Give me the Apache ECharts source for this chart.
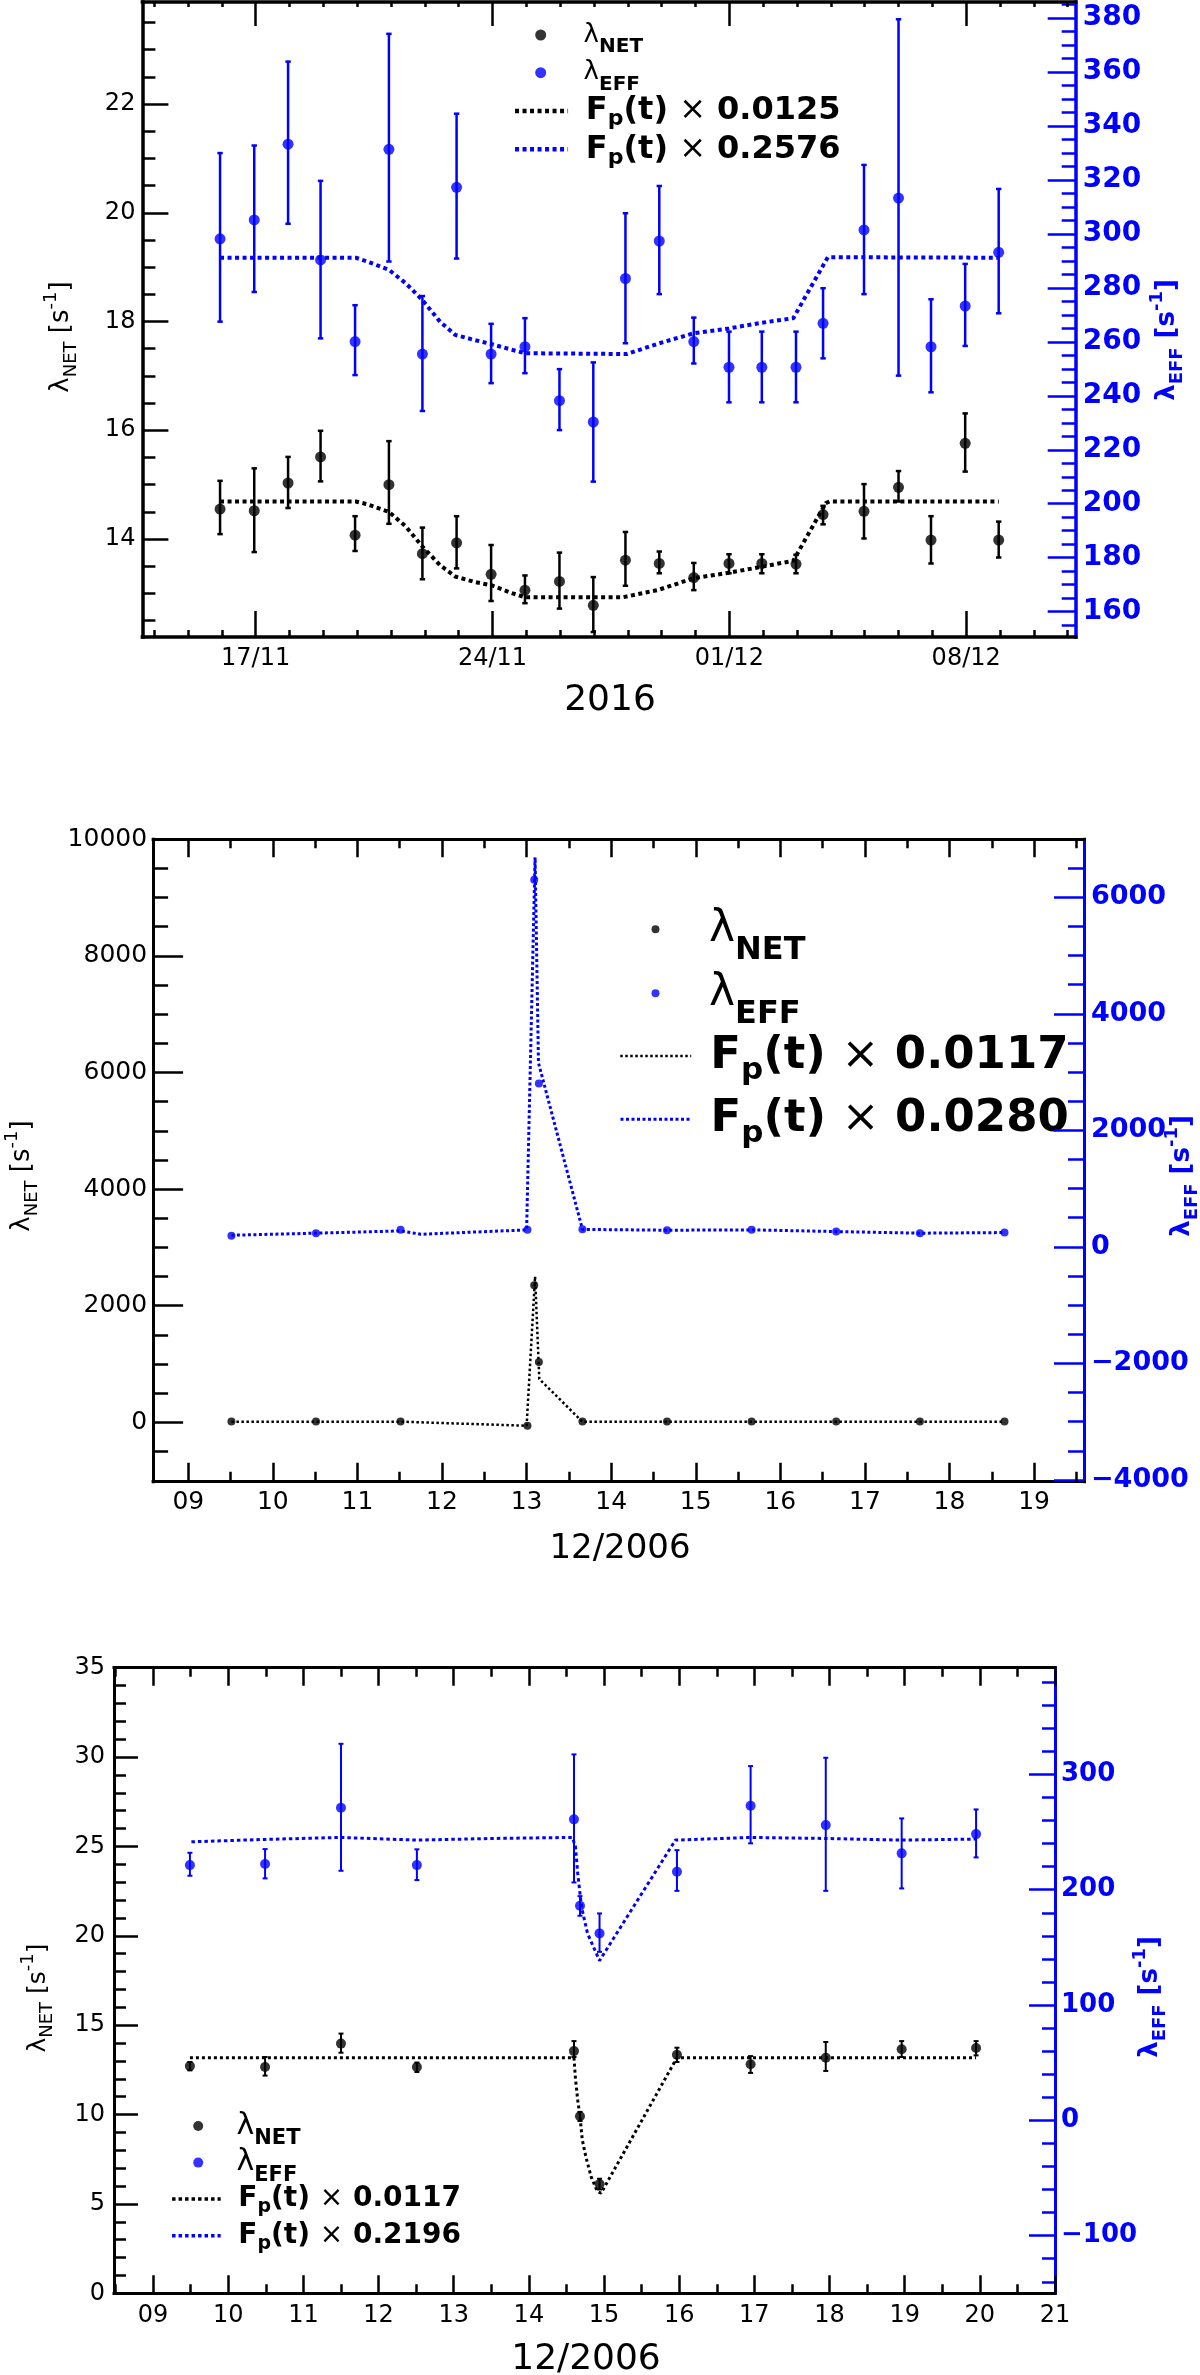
<!DOCTYPE html>
<html><head><meta charset="utf-8">
<script src="https://cdn.jsdelivr.net/npm/echarts@6/dist/echarts.min.js"></script>
<style>html,body{margin:0;padding:0;background:#fff}#c{width:1200px;height:2375px}</style>
</head><body><div id="c"></div>
<script>
// ---------------- DATA ----------------
// Panel 1 (2016): x = day counted from 1 Nov (31 = 01/12)
const p1X      = [15.95,16.96,17.96,18.92,19.94,20.94,21.93,22.94,23.96,24.96,25.98,26.98,27.93,28.93,29.95,30.99,31.96,32.97,33.77,34.98,36.0,36.96,37.97,38.96];
const p1Net    = [14.55,14.52,15.03,15.51,14.07,15.00,13.73,13.93,13.35,13.06,13.22,12.78,13.61,13.55,13.29,13.55,13.55,13.54,14.45,14.51,14.95,13.98,15.76,13.98];
const p1NetLo  = [14.09,13.76,14.57,15.06,13.78,14.28,13.26,13.46,12.86,12.82,12.72,12.29,13.14,13.37,13.06,13.37,13.37,13.37,14.27,14.01,14.69,13.55,15.24,13.66];
const p1NetHi  = [15.07,15.30,15.51,15.99,14.42,15.80,14.21,14.42,13.89,13.33,13.75,13.30,14.13,13.77,13.56,13.72,13.72,13.71,14.61,15.01,15.25,14.42,16.31,14.32];
const p1Eff    = [298.2,305.2,333.3,290.4,260.1,331.4,255.5,317.3,255.5,258.2,238.2,230.3,283.5,297.4,260.1,250.6,250.6,250.6,266.9,301.5,313.3,258.2,273.3,293.2];
const p1EffLo  = [267.5,278.5,303.8,261.3,247.7,289.8,234.4,290.9,244.7,248.4,227.3,208.2,259.5,277.7,252.0,237.6,237.6,237.6,253.9,277.7,247.5,241.3,258.5,270.6];
const p1EffHi  = [330.0,332.8,363.9,319.7,273.6,374.2,277.0,344.6,266.7,268.8,249.9,252.4,307.7,317.8,269.0,263.8,263.8,263.8,279.9,325.6,379.6,275.8,288.9,316.7];
const p1NetFitX = [15.95,19.96,20.30,20.94,21.44,21.93,22.45,22.90,23.47,23.96,24.60,24.96,27.86,28.88,29.95,30.99,31.96,32.89,33.85,33.96,38.96];
const p1NetFitY = [14.69,14.69,14.64,14.50,14.23,13.86,13.52,13.31,13.21,13.15,13.00,12.93,12.93,13.06,13.28,13.38,13.49,13.60,14.66,14.69,14.69];
const p1EffFitX = [15.95,19.96,20.30,20.94,21.44,21.93,22.45,22.90,23.47,23.96,24.60,24.96,27.97,28.93,29.95,30.99,31.96,32.89,33.91,38.96];
const p1EffFitY = [291.2,291.2,289.8,286.7,281.7,275.5,267.5,262.6,260.7,259.2,257.0,255.8,255.5,259.5,263.2,265.0,267.1,268.8,291.4,291.2];
const p1XTickVals = [17,24,31,38];
const p1XTickLabels = ['17/11','24/11','01/12','08/12'];

// Panel 2 (12/2006, day of month)
const p2X      = [9.51,10.51,11.51,13.01,13.09,13.145,13.66,14.66,15.66,16.66,17.65,18.65];
const p2Net    = [12,13,14,-60,2350,1034,13,12,13,14,13,13];
const p2Eff    = [189,235,292,292,6300,2805,304,286,292,263,235,246];
const p2NetFitX = [9.51,10.51,11.51,13.0,13.10,13.15,13.66,14.66,15.66,16.66,17.65,18.65];
const p2NetFitY = [10,10,10,-60,2500,740,10,10,10,10,10,10];
const p2EffFitX = [9.51,10.51,11.51,11.75,13.0,13.10,13.14,13.66,14.66,15.66,16.66,17.65,18.65];
const p2EffFitY = [200,235,274,217,291,6685,3160,300,286,292,263,235,246];
const p2XTickVals = [9,10,11,12,13,14,15,16,17,18,19];
const p2XTickLabels = ['09','10','11','12','13','14','15','16','17','18','19'];

// Panel 3 (12/2006, day of month)
const p3X      = [9.49,10.49,11.50,12.51,14.60,14.68,14.94,15.97,16.95,17.95,18.96,19.95];
const p3Net    = [12.71,12.66,13.97,12.66,13.55,9.91,6.11,13.35,12.81,13.18,13.65,13.72];
const p3NetLo  = [12.47,12.18,13.46,12.38,13.22,9.64,5.81,12.94,12.33,12.44,13.22,13.31];
const p3NetHi  = [12.94,13.22,14.53,12.91,14.11,10.15,6.41,13.74,13.27,14.06,14.11,14.11];
const p3Eff    = [221.3,222.2,271.0,221.3,261.0,186.0,162.1,215.5,272.8,256.0,231.5,248.2];
const p3EffLo  = [212.1,209.8,216.4,208.3,206.3,177.4,146.1,199.0,240.2,199.0,201.1,228.0];
const p3EffHi  = [232.0,235.2,326.5,235.0,317.3,194.4,179.4,234.3,307.2,314.4,261.8,269.6];
const p3NetFitX = [9.49,14.60,14.62,14.65,14.68,14.71,14.76,14.83,14.91,14.96,15.97,19.95];
const p3NetFitY = [13.18,13.18,12.0,10.8,9.9,8.6,7.6,6.5,5.7,5.6,13.18,13.18];
const p3EffFitX = [9.51,10.49,11.50,12.51,13.5,14.58,14.62,14.65,14.70,14.78,14.94,15.95,16.95,17.95,18.96,19.95];
const p3EffFitY = [241.5,243.6,245.3,243.0,244.4,245.3,237.2,214.1,185.2,162.1,138.5,243.0,245.3,244.4,243.0,243.9];
const p3XTickVals = [9,10,11,12,13,14,15,16,17,18,19,20,21];
const p3XTickLabels = ['09','10','11','12','13','14','15','16','17','18','19','20','21'];

// y tick labels
const p1YLVals = [14,16,18,20,22];
const p1YRVals = [160,180,200,220,240,260,280,300,320,340,360,380];
const p2YLVals = [0,2000,4000,6000,8000,10000];
const p2YRVals = [-4000,-2000,0,2000,4000,6000];
const p3YLVals = [0,5,10,15,20,25,30,35];
const p3YRVals = [-100,0,100,200,300];

// ---------------- HELPERS ----------------
const BLUE = '#0000ff', BLACK = '#000000', FONT = 'DejaVu Sans';
function range(a, b, s){ const r=[]; for(let v=a; v<=b+1e-9; v+=s) r.push(Math.round(v*1000)/1000); return r; }
const fmtNum = v => String(v).replace('-', '\u2212');

const xAxes = [], yAxes = [];
function axis(kind, grid, pos, min, max, ticks, len, color, lw, showLine, label){
  const o = {type:'value', gridIndex:grid, position:pos, min:min, max:max,
    axisLine:{show:showLine, onZero:false, lineStyle:{color:color, width:lw, cap:'square'}},
    axisTick:{show:true, inside:true, length:len, customValues:ticks, lineStyle:{color:color, width:2.5}},
    axisLabel: label ? Object.assign({show:true, customValues:ticks, fontFamily:FONT, color:color}, label) : {show:false},
    splitLine:{show:false}, minorTick:{show:false}, minorSplitLine:{show:false}, z:5};
  if (kind==='x'){ xAxes.push(o); return xAxes.length-1; }
  yAxes.push(o); return yAxes.length-1;
}
function labelMap(vals, labels){ return v => { const i = vals.indexOf(Math.round(v*1000)/1000); return i>=0 ? labels[i] : ''; }; }

function makeErr(xs, lo, hi, xi, yi, color, lw, cap){
  return {type:'custom', coordinateSystem:'cartesian2d', xAxisIndex:xi, yAxisIndex:yi, silent:true, z:3,
    data: xs.map((x,i)=>[x, lo[i], hi[i]]), encode:{x:0, y:[1,2]},
    renderItem:function(params, api){
      const x = api.value(0);
      const a = api.coord([x, api.value(1)]), b = api.coord([x, api.value(2)]);
      const st = {stroke:color, lineWidth:lw};
      return {type:'group', children:[
        {type:'line', shape:{x1:a[0],y1:a[1],x2:b[0],y2:b[1]}, style:st},
        {type:'line', shape:{x1:a[0]-cap,y1:a[1],x2:a[0]+cap,y2:a[1]}, style:st},
        {type:'line', shape:{x1:b[0]-cap,y1:b[1],x2:b[0]+cap,y2:b[1]}, style:st}
      ]};
    }};
}
function makeScatter(name, xs, ys, xi, yi, color, size){
  return {type:'scatter', name:name, xAxisIndex:xi, yAxisIndex:yi, silent:true, z:4,
    data: xs.map((x,i)=>[x, ys[i]]), symbol:'circle', symbolSize:size, itemStyle:{color:color}};
}
function makeLine(name, xs, ys, xi, yi, color, w, dash){
  return {type:'line', name:name, xAxisIndex:xi, yAxisIndex:yi, silent:true, z:2,
    data: xs.map((x,i)=>[x, ys[i]]), symbol:'none', showSymbol:false, itemStyle:{color:color},
    lineStyle:{color:color, width:w, type:dash, cap:'butt'}};
}

// ---------------- AXES ----------------
// Panel 1
const P1 = {x:[13.655, 41.236], yl:[12.198, 23.876], yr:[150.6, 386.0]};
const x1 = axis('x',0,'bottom',P1.x[0],P1.x[1],p1XTickVals,26,BLACK,3.5,true,{fontSize:24, margin:10, formatter:labelMap(p1XTickVals,p1XTickLabels)});
axis('x',0,'bottom',P1.x[0],P1.x[1],range(14,41,1),7,BLACK,3.5,false,null);
axis('x',0,'top',P1.x[0],P1.x[1],p1XTickVals,24,BLACK,3.5,true,null);
axis('x',0,'top',P1.x[0],P1.x[1],range(14,41,1),5,BLACK,3.5,false,null);
const y1L = axis('y',0,'left',P1.yl[0],P1.yl[1],p1YLVals,26,BLACK,3.5,true,{fontSize:24, margin:7, formatter:fmtNum});
axis('y',0,'left',P1.yl[0],P1.yl[1],range(12.5,23.5,0.5),13,BLACK,3.5,false,null);
const y1R = axis('y',0,'right',P1.yr[0],P1.yr[1],p1YRVals,28,BLUE,3.5,true,{fontSize:28, fontWeight:'bold', margin:7, formatter:fmtNum});
axis('y',0,'right',P1.yr[0],P1.yr[1],range(155,385,5),14,BLUE,3.5,false,null);

// Panel 2
const P2 = {x:[8.584, 19.59], yl:[-1020, 10000], yr:[-4030, 6995]};
const x2 = axis('x',1,'bottom',P2.x[0],P2.x[1],p2XTickVals,19,BLACK,3,true,{fontSize:25, margin:8, formatter:labelMap(p2XTickVals,p2XTickLabels)});
axis('x',1,'bottom',P2.x[0],P2.x[1],range(9.5,19.5,1),10,BLACK,3,false,null);
axis('x',1,'top',P2.x[0],P2.x[1],p2XTickVals,18,BLACK,3,true,null);
axis('x',1,'top',P2.x[0],P2.x[1],range(9.5,19.5,1),9,BLACK,3,false,null);
const y2L = axis('y',1,'left',P2.yl[0],P2.yl[1],p2YLVals,30,BLACK,3,true,{fontSize:25, margin:6, formatter:fmtNum});
axis('y',1,'left',P2.yl[0],P2.yl[1],range(-500,9500,500),15,BLACK,3,false,null);
const y2R = axis('y',1,'right',P2.yr[0],P2.yr[1],p2YRVals,30,BLUE,3,true,{fontSize:27, fontWeight:'bold', margin:7, formatter:fmtNum});
axis('y',1,'right',P2.yr[0],P2.yr[1],range(-3500,6500,500),16,BLUE,3,false,null);

// Panel 3
const P3 = {x:[8.48, 21.0], yl:[0, 35], yr:[-150, 392.5]};
const x3 = axis('x',2,'bottom',P3.x[0],P3.x[1],p3XTickVals,18,BLACK,3,true,{fontSize:24, margin:10, formatter:labelMap(p3XTickVals,p3XTickLabels)});
axis('x',2,'bottom',P3.x[0],P3.x[1],range(8.5,20.5,1),9,BLACK,3,false,null);
axis('x',2,'top',P3.x[0],P3.x[1],p3XTickVals,18,BLACK,3,true,null);
axis('x',2,'top',P3.x[0],P3.x[1],range(8.5,20.5,1),9,BLACK,3,false,null);
const y3L = axis('y',2,'left',P3.yl[0],P3.yl[1],p3YLVals,24,BLACK,3,true,{fontSize:24, margin:9, formatter:fmtNum});
axis('y',2,'left',P3.yl[0],P3.yl[1],range(1,34,1),12,BLACK,3,false,null);
const y3R = axis('y',2,'right',P3.yr[0],P3.yr[1],p3YRVals,26,BLUE,3,true,{fontSize:26, fontWeight:'bold', margin:6, formatter:fmtNum});
axis('y',2,'right',P3.yr[0],P3.yr[1],range(-140,380,20),13,BLUE,3,false,null);

// ---------------- SERIES ----------------
const series = [
  makeLine('nf1', p1NetFitX, p1NetFitY, x1, y1L, BLACK, 4, [4,3.5]),
  makeLine('ef1', p1EffFitX, p1EffFitY, x1, y1R, BLUE, 4, [4,3.5]),
  makeErr(p1X, p1NetLo, p1NetHi, x1, y1L, BLACK, 2.5, 2.7),
  makeErr(p1X, p1EffLo, p1EffHi, x1, y1R, BLUE, 2.5, 2.7),
  makeScatter('n1', p1X, p1Net, x1, y1L, BLACK, 11),
  makeScatter('e1', p1X, p1Eff, x1, y1R, BLUE, 11),

  makeLine('nf2', p2NetFitX, p2NetFitY, x2, y2L, BLACK, 2.5, [2.5,2.5]),
  makeLine('ef2', p2EffFitX, p2EffFitY, x2, y2R, BLUE, 3, [3,2.5]),
  makeScatter('n2', p2X, p2Net, x2, y2L, BLACK, 8),
  makeScatter('e2', p2X, p2Eff, x2, y2R, BLUE, 8),

  makeLine('nf3', p3NetFitX, p3NetFitY, x3, y3L, BLACK, 3, [3,3]),
  makeLine('ef3', p3EffFitX, p3EffFitY, x3, y3R, BLUE, 3, [3.5,3]),
  makeErr(p3X, p3NetLo, p3NetHi, x3, y3L, BLACK, 2, 2.5),
  makeErr(p3X, p3EffLo, p3EffHi, x3, y3R, BLUE, 2, 2.5),
  makeScatter('n3', p3X, p3Net, x3, y3L, BLACK, 10),
  makeScatter('e3', p3X, p3Eff, x3, y3R, BLUE, 10)
];

// ---------------- LEGENDS ----------------
function lamRich(lf, sf, H){ return {
  l:{fontSize:lf, fontFamily:FONT, lineHeight:H, verticalAlign:'middle', color:BLACK},
  s:{fontSize:sf, fontFamily:FONT, fontWeight:'bold', lineHeight:sf, verticalAlign:'bottom', color:BLACK}}; }
function fRich(ff, pf, H){ return {
  f:{fontSize:ff, fontFamily:FONT, fontWeight:'bold', lineHeight:H, verticalAlign:'middle', color:BLACK},
  x:{fontSize:ff, fontFamily:FONT, fontWeight:'normal', lineHeight:H, verticalAlign:'middle', color:BLACK},
  p:{fontSize:pf, fontFamily:FONT, fontWeight:'bold', lineHeight:pf, verticalAlign:'bottom', color:BLACK}}; }
function leg(name, line, left, top, iw, ih, padL, fmt, rich){
  const d = line ? {name:name} : {name:name, icon:'circle'};
  const o = {show:true, left:left, top:top, orient:'vertical', padding:0, itemWidth:iw, itemHeight:ih,
    selectedMode:false, data:[d], formatter:fmt,
    textStyle:{color:BLACK, fontFamily:FONT, padding:[0,0,0,padL], rich:rich}};
  if (line) {
    o.itemStyle = {opacity:0, borderWidth:0};
    o.lineStyle = {color:line.c, width:line.w, type:line.d, cap:'butt'};
  }
  return o;
}
const fTxt = c => '{f|F}{p|p}{f|(t) }{x|\u00d7}{f| ' + c + '}';
const legends = [
  leg('n1',null,535.2,22,11,11,32.4,'{l|\u03bb}{s|NET}',lamRich(26,20,44)),
  leg('e1',null,535.2,59.7,11,11,32.4,'{l|\u03bb}{s|EFF}',lamRich(26,20,44)),
  leg('nf1',{c:BLACK,w:4.5,d:[4,3.5]},512.8,95,53,14,12.8,fTxt('0.0125'),fRich(32,22,39)),
  leg('ef1',{c:BLUE,w:4.5,d:[4,3.5]},512.8,133.3,53,14,12.8,fTxt('0.2576'),fRich(32,22,39)),

  leg('n2',null,651.5,907.3,8,8,44.5,'{l|\u03bb}{s|NET}',lamRich(44,32,74)),
  leg('e2',null,651.5,971.3,8,8,44.5,'{l|\u03bb}{s|EFF}',lamRich(44,32,74)),
  leg('nf2',{c:BLACK,w:2.5,d:[2.5,2.5]},619,1033.5,71,14,14,fTxt('0.0117'),fRich(45,31,61)),
  leg('ef2',{c:BLUE,w:3,d:[3,2.5]},619,1096.8,71,14,14,fTxt('0.0280'),fRich(45,31,61)),

  leg('n3',null,193.2,2111,10,10,28.3,'{l|\u03bb}{s|NET}',lamRich(30,21,47)),
  leg('e3',null,193.2,2147.6,10,10,28.3,'{l|\u03bb}{s|EFF}',lamRich(30,21,47)),
  leg('nf3',{c:BLACK,w:3.5,d:[3.5,3]},170.3,2185,48.6,14,12.6,fTxt('0.0117'),fRich(28,19,36)),
  leg('ef3',{c:BLUE,w:3.5,d:[3.5,3]},170.3,2221.7,48.6,14,12.6,fTxt('0.2196'),fRich(28,19,36))
];

// ---------------- TITLES ----------------
function yTitle(x, y, sub, color, bold, fs){
  const w = bold ? 'bold' : 'normal', sf = Math.round(fs*0.7), H = fs+12;
  return {type:'text', x:x, y:y, rotation:Math.PI/2, z:10, silent:true,
    style:{text:'{a|\u03bb}{b|'+sub+'}{a| [s}{c|-1}{a|]}', align:'center', verticalAlign:'middle', textAlign:'center', textVerticalAlign:'middle',
      rich:{a:{fontSize:fs, fontFamily:FONT, fontWeight:w, fill:color, color:color, lineHeight:H, verticalAlign:'middle'},
            b:{fontSize:sf, fontFamily:FONT, fontWeight:w, fill:color, color:color, lineHeight:sf, verticalAlign:'bottom'},
            c:{fontSize:sf, fontFamily:FONT, fontWeight:w, fill:color, color:color, lineHeight:sf, verticalAlign:'top'}}}};
}
function xTitle(x, y, txt, fs){
  return {type:'text', x:x, y:y, z:10, silent:true,
    style:{text:txt, align:'center', verticalAlign:'middle', textAlign:'center', textVerticalAlign:'middle',
      fontSize:fs, fontFamily:FONT, fill:BLACK}};
}
const graphics = [
  yTitle(61, 337, 'NET', BLACK, false, 26),
  yTitle(1167, 340, 'EFF', BLUE, true, 26),
  xTitle(610, 701, '2016', 36),
  yTitle(22, 1176, 'NET', BLACK, false, 26),
  yTitle(1182, 1176, 'EFF', BLUE, true, 26),
  xTitle(620, 1549, '12/2006', 34),
  yTitle(38, 1998, 'NET', BLACK, false, 25),
  yTitle(1150, 1997, 'EFF', BLUE, true, 26),
  xTitle(586, 2360, '12/2006', 36)
];

const chart = echarts.init(document.getElementById('c'), null, {renderer:'canvas', width:1200, height:2375});
chart.setOption({
  animation:false,
  backgroundColor:'#ffffff',
  textStyle:{fontFamily:FONT},
  grid:[
    {left:142.4, top:2, width:933.3, height:635, outerBoundsMode:'none'},
    {left:153.1, top:839.3, width:930.9, height:642.4, outerBoundsMode:'none'},
    {left:114, top:1667.7, width:941, height:625.6, outerBoundsMode:'none'}
  ],
  xAxis:xAxes, yAxis:yAxes, series:series, legend:legends, graphic:graphics
});
</script></body></html>
